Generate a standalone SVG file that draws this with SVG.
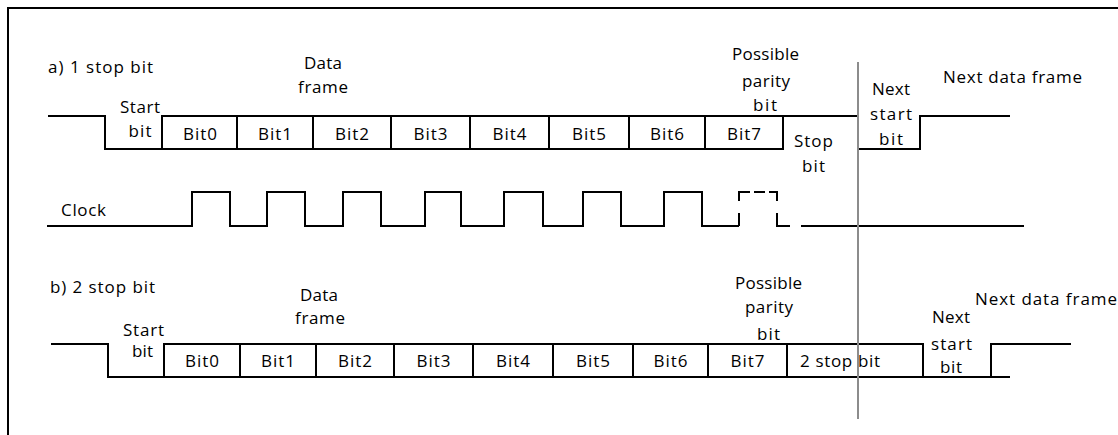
<svg xmlns="http://www.w3.org/2000/svg" width="1118" height="435" viewBox="0 0 1118 435">
<style>
.w{fill:none;stroke:#000;stroke-width:2;stroke-linecap:butt;stroke-linejoin:miter}
.t{font-family:"Open Sans","Liberation Sans",sans-serif;font-size:17px;fill:#000}
.m{text-anchor:middle}
</style>
<rect width="1118" height="435" fill="#fff"/>
<g id="frame"><path class="w" d="M8,436 V8 H1119"/></g>

<g id="row-a">
  <text class="t" x="48" y="73" textLength="105" lengthAdjust="spacing">a) 1 stop bit</text>
  <path class="w" d="M48,116 H105 V149 H783 V116 H162 V149"/>
  <path class="w" d="M237,116 V149 M313,116 V149 M391,116 V149 M470,116 V149 M549,116 V149 M629,116 V149 M705,116 V149"/>
  <path class="w" d="M783,116 H858 V149 H920 V116 H1010"/>
  <text class="t m" x="323" y="69" textLength="38" lengthAdjust="spacing">Data</text>
  <text class="t m" x="323" y="93" textLength="50" lengthAdjust="spacing">frame</text>
  <text class="t m" x="140" y="113" textLength="40" lengthAdjust="spacing">Start</text>
  <text class="t m" x="140" y="137" textLength="23" lengthAdjust="spacing">bit</text>
  <text class="t m" x="200" y="140" textLength="34" lengthAdjust="spacing">Bit0</text>
  <text class="t m" x="275" y="140" textLength="34" lengthAdjust="spacing">Bit1</text>
  <text class="t m" x="352" y="140" textLength="34" lengthAdjust="spacing">Bit2</text>
  <text class="t m" x="430.5" y="140" textLength="34" lengthAdjust="spacing">Bit3</text>
  <text class="t m" x="509.5" y="140" textLength="34" lengthAdjust="spacing">Bit4</text>
  <text class="t m" x="589" y="140" textLength="34" lengthAdjust="spacing">Bit5</text>
  <text class="t m" x="667" y="140" textLength="34" lengthAdjust="spacing">Bit6</text>
  <text class="t m" x="744" y="140" textLength="34" lengthAdjust="spacing">Bit7</text>
  <text class="t m" x="765.5" y="60" textLength="67" lengthAdjust="spacing">Possible</text>
  <text class="t m" x="766" y="87" textLength="48" lengthAdjust="spacing">parity</text>
  <text class="t m" x="765" y="111" textLength="24" lengthAdjust="spacing">bit</text>
  <text class="t m" x="813.5" y="147" textLength="39" lengthAdjust="spacing">Stop</text>
  <text class="t m" x="813.5" y="172" textLength="23" lengthAdjust="spacing">bit</text>
  <text class="t m" x="891" y="95" textLength="38" lengthAdjust="spacing">Next</text>
  <text class="t m" x="891" y="120" textLength="42" lengthAdjust="spacing">start</text>
  <text class="t m" x="891" y="145" textLength="24" lengthAdjust="spacing">bit</text>
  <text class="t" x="943" y="83" textLength="139" lengthAdjust="spacing">Next data frame</text>
</g>

<g id="clock">
  <text class="t" x="61" y="216" textLength="45" lengthAdjust="spacing">Clock</text>
  <path class="w" d="M47,226 H192 V192 H230 V226 H267 V192 H305 V226 H343 V192 H381 V226 H425 V192 H461 V226 H504 V192 H543 V226 H583 V192 H621 V226 H664 V192 H702 V226 H739"/>
  <path class="w" d="M739,226 V213 M739,201 V192 H750 M754,192 H765 M769,192 H777 V201 M777,213 V226 H790"/>
  <path class="w" d="M801,226 H1024"/>
</g>

<g id="row-b">
  <text class="t" x="50" y="293" textLength="105" lengthAdjust="spacing">b) 2 stop bit</text>
  <path class="w" d="M51,344 H108 V377 H923 V344 H164 V377"/>
  <path class="w" d="M240,344 V377 M316,344 V377 M394,344 V377 M473,344 V377 M553,344 V377 M633,344 V377 M708,344 V377 M787,344 V377"/>
  <path class="w" d="M923,377 H1010 M991,377 V344 H1071"/>
  <text class="t m" x="319" y="301" textLength="38" lengthAdjust="spacing">Data</text>
  <text class="t m" x="320" y="324" textLength="50" lengthAdjust="spacing">frame</text>
  <text class="t m" x="143.5" y="336" textLength="41" lengthAdjust="spacing">Start</text>
  <text class="t m" x="142.5" y="357" textLength="21" lengthAdjust="spacing">bit</text>
  <text class="t m" x="202" y="367" textLength="34" lengthAdjust="spacing">Bit0</text>
  <text class="t m" x="278" y="367" textLength="34" lengthAdjust="spacing">Bit1</text>
  <text class="t m" x="355" y="367" textLength="34" lengthAdjust="spacing">Bit2</text>
  <text class="t m" x="433.5" y="367" textLength="34" lengthAdjust="spacing">Bit3</text>
  <text class="t m" x="513" y="367" textLength="34" lengthAdjust="spacing">Bit4</text>
  <text class="t m" x="593" y="367" textLength="34" lengthAdjust="spacing">Bit5</text>
  <text class="t m" x="670.5" y="367" textLength="34" lengthAdjust="spacing">Bit6</text>
  <text class="t m" x="747.5" y="367" textLength="34" lengthAdjust="spacing">Bit7</text>
  <text class="t" x="800" y="367" textLength="80" lengthAdjust="spacing">2 stop bit</text>
  <text class="t m" x="768.5" y="289" textLength="67" lengthAdjust="spacing">Possible</text>
  <text class="t m" x="769" y="313" textLength="48" lengthAdjust="spacing">parity</text>
  <text class="t m" x="768.5" y="340" textLength="23" lengthAdjust="spacing">bit</text>
  <text class="t m" x="951" y="323" textLength="38" lengthAdjust="spacing">Next</text>
  <text class="t m" x="951.5" y="350" textLength="41" lengthAdjust="spacing">start</text>
  <text class="t m" x="951" y="373" textLength="22" lengthAdjust="spacing">bit</text>
  <text class="t" x="975" y="305" textLength="142" lengthAdjust="spacing">Next data frame</text>
</g>

<g id="connectors">
  <line x1="858" y1="62" x2="858" y2="419" stroke="#8c8c8c" stroke-width="2"/>
</g>
</svg>
